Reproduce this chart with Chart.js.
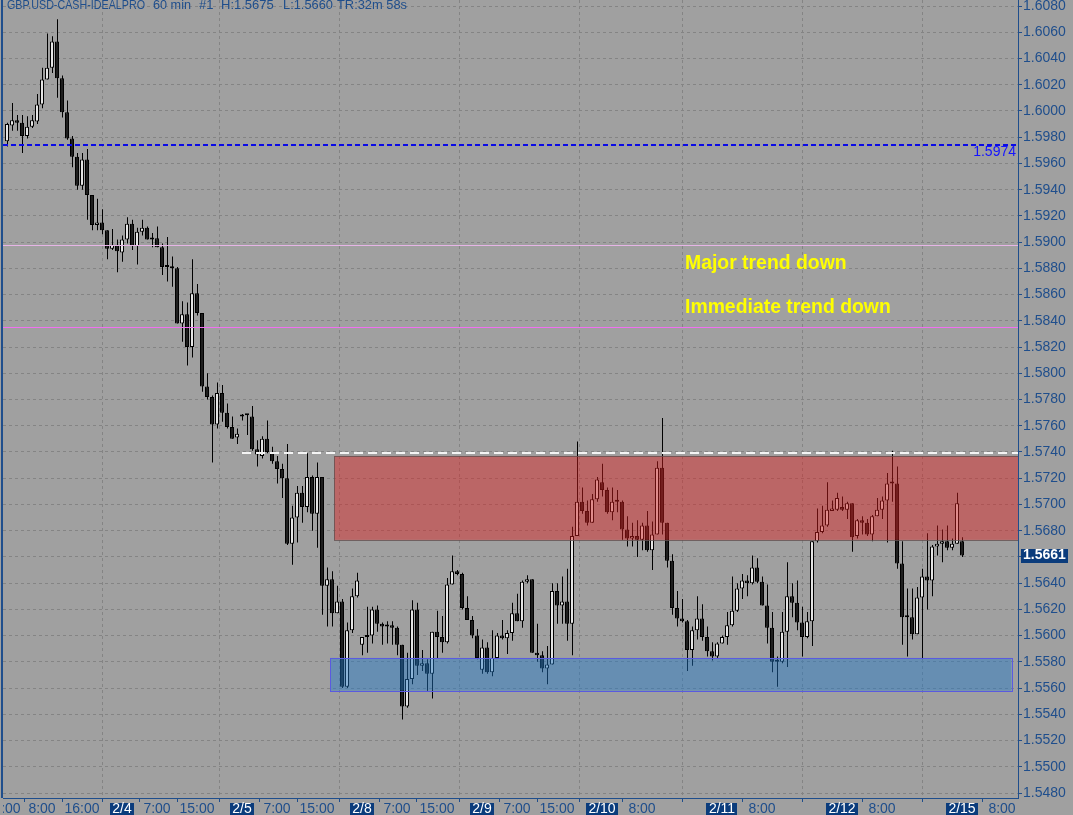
<!DOCTYPE html>
<html>
<head>
<meta charset="utf-8">
<script src="https://cdn.jsdelivr.net/npm/chart.js@4.4.0/dist/chart.umd.min.js"></script>
<style>
  html, body { margin: 0; padding: 0; background: #a0a0a0; overflow: hidden; }
  #wrap { width: 1073px; height: 815px; }
</style>
</head>
<body>
<div id="wrap"><canvas id="fxChart" width="1073" height="815"></canvas></div>
<script>
// GBP.USD hourly bars, 2/3 01:00 .. 2/15 00:00 (bar index 1..192)
const opens = [
  1.5977,1.5989,1.5993,1.5991,1.5981,1.5988,1.5992,1.6005,1.6024,1.6033,1.6053,1.6025,
  1.5999,1.5979,1.5965,1.5943,1.5963,1.5936,1.5913,1.5915,1.5909,1.5895,1.5898,1.5892,
  1.5902,1.5914,1.5897,1.5908,1.5911,1.5903,1.5903,1.5896,1.5881,1.5881,1.5880,1.5838,
  1.5845,1.5820,1.5861,1.5846,1.5790,1.5782,1.5761,1.5785,1.5770,1.5759,1.5751,1.5767,
  1.5768,1.5767,1.5742,1.5737,1.5750,1.5740,1.5733,1.5727,1.5720,1.5670,1.5690,1.5709,
  1.5698,1.5721,1.5693,1.5721,1.5638,1.5643,1.5617,1.5626,1.5561,1.5604,1.5630,1.5593,
  1.5599,1.5600,1.5620,1.5609,1.5608,1.5608,1.5606,1.5593,1.5546,1.5567,1.5620,1.5577,
  1.5579,1.5571,1.5603,1.5599,1.5595,1.5639,1.5649,1.5647,1.5621,1.5612,1.5600,1.5574,
  1.5591,1.5572,1.5583,1.5600,1.5598,1.5602,1.5617,1.5611,1.5641,1.5643,1.5587,1.5585,
  1.5575,1.5578,1.5634,1.5623,1.5626,1.5609,1.5676,1.5702,1.5695,1.5686,1.5704,1.5717,
  1.5711,1.5694,1.5702,1.5702,1.5681,1.5674,1.5676,1.5673,1.5684,1.5665,1.5677,1.5728,
  1.5686,1.5657,1.5621,1.5613,1.5611,1.5589,1.5604,1.5613,1.5599,1.5588,1.5584,1.5594,
  1.5599,1.5608,1.5619,1.5636,1.5642,1.5640,1.5652,1.5641,1.5623,1.5606,1.5580,1.5580,
  1.5603,1.5630,1.5625,1.5610,1.5599,1.5611,1.5672,1.5679,1.5684,1.5695,1.5696,1.5698,
  1.5696,1.5701,1.5676,1.5688,1.5686,1.5677,1.5691,1.5696,1.5703,1.5716,1.5716,1.5655,
  1.5614,1.5614,1.5601,1.5629,1.5645,1.5642,1.5668,1.5670,1.5672,1.5667,1.5670,1.5672
];
const highs = [
  1.5991,1.6006,1.5997,1.5997,1.5996,1.5997,1.6013,1.6033,1.6059,1.6057,1.6070,1.6027,
  1.6008,1.5981,1.5968,1.5968,1.5971,1.5936,1.5933,1.5925,1.5909,1.5910,1.5902,1.5905,
  1.5919,1.5917,1.5911,1.5917,1.5912,1.5907,1.5912,1.5899,1.5904,1.5889,1.5881,1.5855,
  1.5854,1.5887,1.5868,1.5846,1.5800,1.5783,1.5793,1.5791,1.5777,1.5767,1.5758,1.5769,
  1.5769,1.5775,1.5749,1.5752,1.5764,1.5744,1.5737,1.5731,1.5746,1.5699,1.5714,1.5714,
  1.5739,1.5722,1.5732,1.5721,1.5652,1.5649,1.5638,1.5628,1.5610,1.5636,1.5648,1.5599,
  1.5622,1.5622,1.5623,1.5610,1.5611,1.5611,1.5607,1.5593,1.5587,1.5627,1.5625,1.5589,
  1.5582,1.5603,1.5619,1.5615,1.5644,1.5661,1.5650,1.5648,1.5630,1.5615,1.5605,1.5597,
  1.5595,1.5604,1.5602,1.5612,1.5604,1.5625,1.5632,1.5642,1.5646,1.5643,1.5609,1.5588,
  1.5592,1.5640,1.5640,1.5645,1.5651,1.5683,1.5748,1.5713,1.5703,1.5708,1.5721,1.5731,
  1.5713,1.5713,1.5711,1.5703,1.5691,1.5686,1.5688,1.5686,1.5695,1.5687,1.5733,1.5766,
  1.5686,1.5662,1.5634,1.5628,1.5612,1.5607,1.5630,1.5624,1.5607,1.5595,1.5595,1.5600,
  1.5618,1.5645,1.5640,1.5647,1.5646,1.5661,1.5659,1.5645,1.5639,1.5618,1.5584,1.5618,
  1.5656,1.5640,1.5642,1.5622,1.5618,1.5672,1.5697,1.5699,1.5717,1.5703,1.5709,1.5706,
  1.5702,1.5701,1.5689,1.5691,1.5689,1.5692,1.5705,1.5706,1.5724,1.5741,1.5729,1.5672,
  1.5636,1.5636,1.5637,1.5651,1.5678,1.5669,1.5684,1.5681,1.5684,1.5674,1.5709,1.5675
];
const lows = [
  1.5973,1.5985,1.5985,1.5968,1.5979,1.5987,1.5990,1.6002,1.6024,1.6029,1.6010,1.5995,
  1.5978,1.5957,1.5940,1.5940,1.5917,1.5909,1.5909,1.5906,1.5887,1.5894,1.5877,1.5885,
  1.5899,1.5894,1.5883,1.5905,1.5902,1.5896,1.5896,1.5875,1.5870,1.5866,1.5838,1.5824,
  1.5806,1.5812,1.5844,1.5786,1.5780,1.5732,1.5758,1.5763,1.5758,1.5750,1.5746,1.5764,
  1.5753,1.5741,1.5729,1.5735,1.5739,1.5731,1.5716,1.5705,1.5669,1.5654,1.5671,1.5686,
  1.5694,1.5680,1.5667,1.5616,1.5607,1.5607,1.5617,1.5560,1.5560,1.5602,1.5629,1.5585,
  1.5587,1.5594,1.5603,1.5593,1.5594,1.5593,1.5585,1.5536,1.5545,1.5563,1.5570,1.5573,
  1.5558,1.5552,1.5583,1.5587,1.5594,1.5639,1.5646,1.5620,1.5612,1.5598,1.5582,1.5571,
  1.5571,1.5569,1.5583,1.5597,1.5586,1.5596,1.5611,1.5606,1.5640,1.5587,1.5580,1.5572,
  1.5563,1.5578,1.5609,1.5609,1.5596,1.5585,1.5676,1.5693,1.5684,1.5686,1.5702,1.5706,
  1.5693,1.5688,1.5694,1.5673,1.5668,1.5668,1.5660,1.5665,1.5664,1.5650,1.5677,1.5677,
  1.5652,1.5616,1.5607,1.5610,1.5573,1.5577,1.5597,1.5596,1.5584,1.5581,1.5583,1.5594,
  1.5593,1.5607,1.5618,1.5628,1.5630,1.5639,1.5640,1.5623,1.5594,1.5572,1.5561,1.5579,
  1.5576,1.5614,1.5604,1.5584,1.5598,1.5592,1.5671,1.5678,1.5683,1.5695,1.5695,1.5695,
  1.5689,1.5664,1.5674,1.5677,1.5676,1.5672,1.5691,1.5689,1.5671,1.5702,1.5651,1.5593,
  1.5584,1.5597,1.5601,1.5582,1.5620,1.5630,1.5661,1.5656,1.5665,1.5665,1.5670,1.5660
];
const closes = [
  1.5990,1.5993,1.5991,1.5981,1.5988,1.5993,1.6005,1.6024,1.6033,1.6053,1.6025,1.5999,
  1.5979,1.5965,1.5943,1.5963,1.5936,1.5913,1.5915,1.5909,1.5895,1.5898,1.5893,1.5902,
  1.5914,1.5897,1.5908,1.5911,1.5902,1.5902,1.5896,1.5881,1.5881,1.5880,1.5838,1.5845,
  1.5820,1.5861,1.5846,1.5790,1.5782,1.5761,1.5785,1.5770,1.5759,1.5750,1.5754,1.5767,
  1.5768,1.5742,1.5738,1.5750,1.5740,1.5733,1.5727,1.5720,1.5670,1.5690,1.5709,1.5698,
  1.5721,1.5693,1.5721,1.5638,1.5643,1.5617,1.5626,1.5561,1.5604,1.5630,1.5642,1.5599,
  1.5600,1.5620,1.5609,1.5607,1.5607,1.5606,1.5593,1.5546,1.5567,1.5620,1.5577,1.5579,
  1.5571,1.5603,1.5599,1.5595,1.5639,1.5649,1.5647,1.5621,1.5612,1.5600,1.5583,1.5591,
  1.5572,1.5583,1.5600,1.5598,1.5602,1.5617,1.5611,1.5641,1.5643,1.5587,1.5585,1.5575,
  1.5578,1.5634,1.5623,1.5626,1.5609,1.5676,1.5702,1.5695,1.5686,1.5704,1.5719,1.5711,
  1.5694,1.5702,1.5702,1.5681,1.5674,1.5676,1.5673,1.5684,1.5665,1.5677,1.5728,1.5686,
  1.5657,1.5621,1.5613,1.5611,1.5589,1.5604,1.5613,1.5599,1.5588,1.5584,1.5594,1.5599,
  1.5608,1.5619,1.5636,1.5642,1.5640,1.5652,1.5641,1.5623,1.5606,1.5580,1.5580,1.5603,
  1.5630,1.5625,1.5610,1.5599,1.5611,1.5672,1.5679,1.5684,1.5696,1.5697,1.5705,1.5696,
  1.5701,1.5675,1.5688,1.5686,1.5677,1.5691,1.5696,1.5703,1.5716,1.5716,1.5655,1.5614,
  1.5614,1.5601,1.5629,1.5645,1.5642,1.5668,1.5670,1.5672,1.5667,1.5670,1.5701,1.5661
];

// x axis: bar index of each tick and its text
const xTickIdx = [1, 8, 16, 24, 31, 39, 48, 55, 63, 72, 79, 87, 96, 103, 111, 120, 128, 144, 152, 168, 176, 192, 200];
const xTickLabels = ['1:00', '8:00', '16:00', '2/4', '7:00', '15:00', '2/5', '7:00', '15:00', '2/8', '7:00', '15:00',
  '2/9', '7:00', '15:00', '2/10', '8:00', '2/11', '8:00', '2/12', '8:00', '2/15', '8:00'];
const yTickValues = [1.5480, 1.5500, 1.5520, 1.5540, 1.5560, 1.5580, 1.5600, 1.5620, 1.5640, 1.5660, 1.5680,
  1.5700, 1.5720, 1.5740, 1.5760, 1.5780, 1.5800, 1.5820, 1.5840, 1.5860, 1.5880, 1.5900, 1.5920, 1.5940,
  1.5960, 1.5980, 1.6000, 1.6020, 1.6040, 1.6060, 1.6080];

// levels drawn on the chart
const stopLevel = 1.5974;
const pinkLevels = [1.5898, 1.5835];
const resistLine = { price: 1.5739, from: 48 };
const redZone = { top: 1.5737, bottom: 1.5673, from: 66.4 };
const blueZone = { top: 1.5583, bottom: 1.5558, from: 65.6, to: 201.9 };
const lastPrice = 1.5661;

const AXIS_BLUE = '#1f4e8c';
const FONT = '"Liberation Sans", Arial, sans-serif';

const bodies = opens.map((o, k) => ({ x: k + 1, y: [o, closes[k]] }));
const wicks = highs.map((h, k) => ({ x: k + 1, y: [lows[k], h] }));
const bodyColors = opens.map((o, k) => closes[k] > o ? '#e6e6e6' : '#1e1e1e');

const fxDecor = {
  id: 'fxDecor',
  beforeDraw(chart) {
    const c = chart.ctx;
    c.save();
    c.fillStyle = '#a0a0a0';
    c.fillRect(0, 0, chart.width, chart.height);
    c.restore();
  },
  afterDatasetsDraw(chart) {
    const { ctx: c, chartArea: a, scales: { x, y } } = chart;
    c.save();
    c.beginPath();
    c.rect(a.left, a.top, a.right - a.left, a.bottom - a.top);
    c.clip();

    // zones
    let x0 = x.getPixelForValue(redZone.from);
    let y0 = y.getPixelForValue(redZone.top);
    let y1 = y.getPixelForValue(redZone.bottom);
    c.fillStyle = 'rgba(220,30,30,0.45)';
    c.fillRect(x0, y0, a.right - x0, y1 - y0);
    c.strokeStyle = 'rgba(100,80,80,0.8)';
    c.lineWidth = 1;
    c.strokeRect(Math.round(x0) + 0.5, Math.round(y0) + 0.5, a.right - x0 + 2, Math.round(y1 - y0));

    x0 = x.getPixelForValue(blueZone.from);
    let x1 = x.getPixelForValue(blueZone.to);
    y0 = y.getPixelForValue(blueZone.top);
    y1 = y.getPixelForValue(blueZone.bottom);
    c.fillStyle = 'rgba(30,120,200,0.45)';
    c.fillRect(x0, y0, x1 - x0, y1 - y0);
    c.strokeStyle = '#5a5ae0';
    c.strokeRect(Math.round(x0) + 0.5, Math.round(y0) + 0.5, Math.round(x1 - x0), Math.round(y1 - y0));

    // horizontal levels
    c.lineWidth = 1;
    pinkLevels.forEach((p, k) => {
      const py = Math.round(y.getPixelForValue(p)) + 0.5;
      c.strokeStyle = k === 0 ? '#e6b4e6' : '#f070f0';
      c.beginPath(); c.moveTo(a.left, py); c.lineTo(a.right, py); c.stroke();
    });

    let py = Math.round(y.getPixelForValue(resistLine.price));
    c.strokeStyle = '#f4f4f4';
    c.lineWidth = 2;
    c.setLineDash([9, 5]);
    c.beginPath(); c.moveTo(x.getPixelForValue(resistLine.from), py); c.lineTo(a.right, py); c.stroke();

    py = Math.round(y.getPixelForValue(stopLevel));
    c.strokeStyle = '#0a0ae6';
    c.setLineDash([5, 3]);
    c.beginPath(); c.moveTo(a.left, py); c.lineTo(a.right, py); c.stroke();
    c.setLineDash([]);
    c.restore();
  },
  afterDraw(chart) {
    const { ctx: c, chartArea: a, scales: { x, y } } = chart;
    c.save();

    // left frame line
    c.fillStyle = AXIS_BLUE;
    c.fillRect(1, 0, 2, a.bottom);

    // price axis labels
    c.font = '14px ' + FONT;
    c.textAlign = 'left';
    c.textBaseline = 'middle';
    c.fillStyle = AXIS_BLUE;
    yTickValues.forEach(v => {
      c.fillText(v.toFixed(4), a.right + 5, y.getPixelForValue(v));
    });

    // time axis labels (clipped at the left frame)
    c.save();
    c.beginPath();
    c.rect(a.left, a.bottom + 1, chart.width - a.left, chart.height - a.bottom);
    c.clip();
    c.textAlign = 'center';
    xTickIdx.forEach((v, k) => {
      const txt = xTickLabels[k];
      const px = x.getPixelForValue(v);
      if (txt.indexOf('/') > 0) {
        const w = c.measureText(txt).width + 5;
        c.fillStyle = '#0b3c7c';
        c.fillRect(Math.round(px - w / 2), a.bottom + 5, Math.round(w), 13);
        c.fillStyle = '#ffffff';
      } else {
        c.fillStyle = AXIS_BLUE;
      }
      c.fillText(txt, px, a.bottom + 11.5);
    });
    c.restore();

    // last price box
    const ly = y.getPixelForValue(lastPrice);
    c.fillStyle = '#0b3c7c';
    c.fillRect(a.right + 3, Math.round(ly) - 7, 47, 14);
    c.fillStyle = '#ffffff';
    c.font = 'bold 14px ' + FONT;
    c.textAlign = 'left';
    c.fillText(lastPrice.toFixed(4), a.right + 5, ly);

    // stop level tag
    c.font = '14px ' + FONT;
    c.textAlign = 'right';
    c.fillStyle = '#1414ff';
    c.fillText(stopLevel.toFixed(4), a.right - 2, y.getPixelForValue(stopLevel) + 7);

    // header
    c.font = '13px ' + FONT;
    c.textAlign = 'left';
    c.textBaseline = 'alphabetic';
    c.fillStyle = AXIS_BLUE;
    const head = [['GBP.USD-CASH-IDEALPRO', 7, 138], ['60 min', 153, 38], ['#1', 199, 15],
      ['H:1.5675', 221, 54], ['L:1.5660', 283, 50], ['TR:32m 58s', 337, 70]];
    head.forEach(h => c.fillText(h[0], h[1], 9, h[2]));

    // commentary
    c.font = 'bold 19.4px ' + FONT;
    c.fillStyle = '#ffff00';
    c.fillText('Major trend down', 685, 269);
    c.fillText('Immediate trend down', 685, 313);
    c.restore();
  }
};

const ctx = document.getElementById('fxChart').getContext('2d');
window.fxChart = new Chart(ctx, {
  type: 'bar',
  data: {
    datasets: [{
      label: 'wick',
      data: wicks,
      xAxisID: 'xw',
      backgroundColor: '#000000',
      borderWidth: 0,
      barThickness: 1,
      inflateAmount: 0,
      minBarLength: 1,
      grouped: false,
      order: 2
    }, {
      label: 'body',
      data: bodies,
      backgroundColor: bodyColors,
      borderColor: '#000000',
      borderWidth: 1,
      borderSkipped: false,
      barThickness: 4,
      inflateAmount: 0,
      minBarLength: 2,
      grouped: false,
      order: 1
    }]
  },
  options: {
    responsive: false,
    animation: false,
    devicePixelRatio: 1,
    layout: { padding: { left: 3, top: 0, right: 0, bottom: 0 } },
    plugins: { legend: { display: false }, tooltip: { enabled: false } },
    scales: {
      x: {
        type: 'linear', position: 'bottom', min: 0.2, max: 203.2, offset: false,
        afterFit: s => { s.height = 17; },
        afterBuildTicks: s => { s.ticks = xTickIdx.map(v => ({ value: v })); },
        ticks: { display: false },
        grid: {
          color: c => (c.tick && c.tick.value > 0 && c.tick.value % 24 === 0) ? '#848484' : 'rgba(0,0,0,0)',
          tickColor: AXIS_BLUE, tickLength: 4, lineWidth: 1
        },
        border: { color: AXIS_BLUE, width: 1, dash: [3, 3] }
      },
      xw: { type: 'linear', display: false, min: 0.1, max: 203.1, offset: false },
      y: {
        type: 'linear', position: 'right', min: 1.54762, max: 1.60846, beginAtZero: false,
        afterFit: s => { s.width = 55; },
        afterBuildTicks: s => { s.ticks = yTickValues.map(v => ({ value: v })); },
        ticks: { display: false },
        grid: { color: '#848484', tickColor: AXIS_BLUE, tickLength: 4, lineWidth: 1 },
        border: { color: AXIS_BLUE, width: 1, dash: [3, 3] }
      }
    }
  },
  plugins: [fxDecor]
});
</script>
</body>
</html>
